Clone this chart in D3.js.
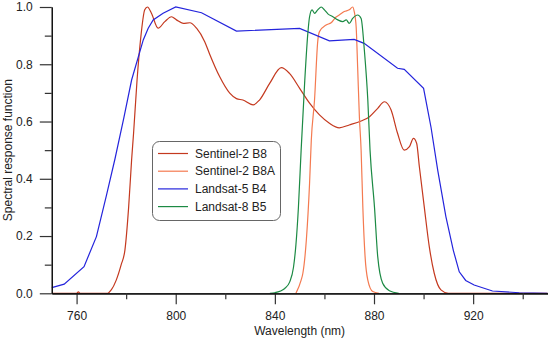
<!DOCTYPE html>
<html>
<head>
<meta charset="utf-8">
<script src="https://cdn.jsdelivr.net/npm/d3@7"></script>
<style>
  body { margin: 0; background: #fff; }
  svg { display: block; font-family: Arial, "Liberation Sans", sans-serif; }
</style>
</head>
<body>
<div id="chart"></div>
<script>
// spectral response functions
const b8Wl = [750, 760, 760.7, 761.5, 772.5, 774, 776, 778, 779.5, 781, 782.2, 783, 784.4, 785.8, 787.5, 788.6, 790.2, 792.9, 795.6, 798.3, 800.3, 803, 805.7, 808.4, 811.7, 813.7, 817.7, 821.8, 824.5, 827.1, 831.2, 833.8, 837.9, 842.6, 845.9, 850, 854, 858, 862, 866, 870, 874.8, 878.2, 881.5, 884.2, 886.9, 889.5, 892.2, 894.3, 895.9, 897.2, 898.3, 900.3, 902.3, 904.3, 907, 910, 950];
const b8Val = [0, 0, 0.005, 0, 0, 0.012, 0.046, 0.1, 0.151, 0.3, 0.466, 0.56, 0.745, 0.885, 0.99, 1.0, 0.978, 0.926, 0.949, 0.966, 0.955, 0.943, 0.945, 0.926, 0.879, 0.835, 0.757, 0.699, 0.68, 0.675, 0.658, 0.675, 0.733, 0.788, 0.768, 0.716, 0.664, 0.623, 0.594, 0.578, 0.588, 0.602, 0.617, 0.646, 0.669, 0.64, 0.559, 0.5, 0.512, 0.541, 0.524, 0.442, 0.3, 0.163, 0.07, 0.012, 0, 0];

const b8aWl = [848.5, 850.6, 851.3, 852.7, 854, 854.7, 856, 857.3, 858, 860.7, 862.7, 864.7, 866, 868, 870, 871.4, 872, 872.8, 873.4, 874.1, 874.8, 875.5, 876.4, 877.5, 879.5, 882];
const b8aVal = [0, 0.046, 0.07, 0.186, 0.384, 0.535, 0.675, 0.88, 0.914, 0.937, 0.945, 0.965, 0.972, 0.984, 0.99, 1.0, 0.985, 0.93, 0.79, 0.617, 0.5, 0.3, 0.128, 0.046, 0.006, 0];

const l5Wl = [750, 755, 763, 768, 772, 775.5, 779, 782.2, 786.9, 788.9, 790.9, 794.9, 800, 810.4, 824.5, 850, 862, 872, 876, 889.5, 892.2, 900, 903, 905.7, 909, 912, 914.4, 917, 920.4, 927.8, 938.6, 950];
const l5Val = [0.02, 0.032, 0.093, 0.198, 0.34, 0.47, 0.61, 0.745, 0.885, 0.926, 0.955, 0.978, 1.0, 0.98, 0.916, 0.925, 0.882, 0.887, 0.873, 0.786, 0.782, 0.716, 0.58, 0.43, 0.268, 0.15, 0.075, 0.045, 0.029, 0.008, 0.002, 0];

const l8Wl = [838, 840, 844, 846, 847.5, 848.5, 849.5, 850.6, 852, 853.3, 854, 855, 856, 857.3, 858.7, 860, 861.4, 863.4, 865.4, 867.4, 868.8, 870, 871.4, 873.4, 874.8, 876.1, 877.5, 878.4, 880.2, 881.5, 883.5, 886.2, 890];
const l8Val = [0, 0.002, 0.017, 0.04, 0.09, 0.17, 0.3, 0.5, 0.733, 0.908, 0.966, 0.99, 0.978, 0.99, 1.0, 0.99, 0.976, 0.966, 0.955, 0.949, 0.955, 0.943, 0.96, 0.972, 0.96, 0.85, 0.675, 0.5, 0.3, 0.128, 0.035, 0.009, 0];

const seriesNames = ["Sentinel-2 B8", "Sentinel-2 B8A", "Landsat-5 B4", "Landsat-8 B5"];
const seriesColors = ["#c4391f", "#f47a50", "#2424dc", "#1c8a44"];

const xMajor = [760, 800, 840, 880, 920];
const xMinor = [780, 820, 860, 900, 940];
const yMajor = [0, 0.2, 0.4, 0.6, 0.8, 1.0];
const yMinor = [0.1, 0.3, 0.5, 0.7, 0.9];

const width = 550;
const height = 339;

const svg = d3.select("#chart")
    .append("svg")
    .attr("width", width)
    .attr("height", height);

const x = d3.scaleLinear().domain([750, 950]).range([51.8, 547.5]);
const y = d3.scaleLinear().domain([0, 1]).range([293.3, 7]);

const series = [
    { wl: b8Wl, val: b8Val, curve: d3.curveMonotoneX },
    { wl: b8aWl, val: b8aVal, curve: d3.curveMonotoneX },
    { wl: l5Wl, val: l5Val, curve: d3.curveLinear },
    { wl: l8Wl, val: l8Val, curve: d3.curveMonotoneX }
];

// curves
series.forEach((s, i) => {
    const pts = s.wl.map((w, j) => [w, s.val[j]]);
    const line = d3.line()
        .x(d => x(d[0]))
        .y(d => y(d[1]))
        .curve(s.curve);
    svg.append("path")
        .datum(pts)
        .attr("d", line)
        .attr("fill", "none")
        .attr("stroke", seriesColors[i])
        .attr("stroke-width", 1.2);
});

// axes
svg.append("g")
    .attr("transform", `translate(0,${y(0)})`)
    .call(d3.axisBottom(x).tickValues(xMajor).tickSize(11).tickSizeOuter(0).tickPadding(7));
svg.append("g")
    .attr("transform", `translate(0,${y(0)})`)
    .call(d3.axisBottom(x).tickValues(xMinor).tickSize(6).tickSizeOuter(0).tickFormat(""));

svg.append("g")
    .attr("transform", `translate(${x(750)},0)`)
    .call(d3.axisLeft(y).tickValues(yMajor).tickSize(12).tickSizeOuter(0).tickPadding(7).tickFormat(d3.format(".1f")));
svg.append("g")
    .attr("transform", `translate(${x(750)},0)`)
    .call(d3.axisLeft(y).tickValues(yMinor).tickSize(7).tickSizeOuter(0).tickFormat(""));

svg.selectAll(".domain").attr("stroke", "#111").attr("stroke-width", 1.2);
svg.selectAll(".tick line").attr("stroke", "#333").attr("stroke-width", 1.2);
svg.selectAll(".tick text")
    .attr("fill", "#222")
    .style("font-size", "12px")
    .style("font-family", "Arial, 'Liberation Sans', sans-serif");

// axis titles
svg.append("text")
    .attr("x", (x(750) + x(950)) / 2)
    .attr("y", 335)
    .attr("text-anchor", "middle")
    .attr("fill", "#222")
    .style("font-size", "12px")
    .text("Wavelength (nm)");

svg.append("text")
    .attr("transform", `translate(11.5,${(y(0) + y(1)) / 2}) rotate(-90)`)
    .attr("text-anchor", "middle")
    .attr("fill", "#222")
    .style("font-size", "12px")
    .text("Spectral response function");

// legend
const legend = svg.append("g");
legend.append("rect")
    .attr("x", 152.5)
    .attr("y", 141.5)
    .attr("width", 128)
    .attr("height", 79)
    .attr("rx", 7)
    .attr("fill", "#fff")
    .attr("stroke", "#666")
    .attr("stroke-width", 1);

seriesNames.forEach((name, i) => {
    const ly = 153.5 + i * 17.7;
    legend.append("line")
        .attr("x1", 158).attr("x2", 188)
        .attr("y1", ly).attr("y2", ly)
        .attr("stroke", seriesColors[i])
        .attr("stroke-width", 1.2);
    legend.append("text")
        .attr("x", 195)
        .attr("y", ly)
        .attr("dy", "0.35em")
        .attr("fill", "#222")
        .style("font-size", "12px")
        .text(name);
});
</script>
</body>
</html>
